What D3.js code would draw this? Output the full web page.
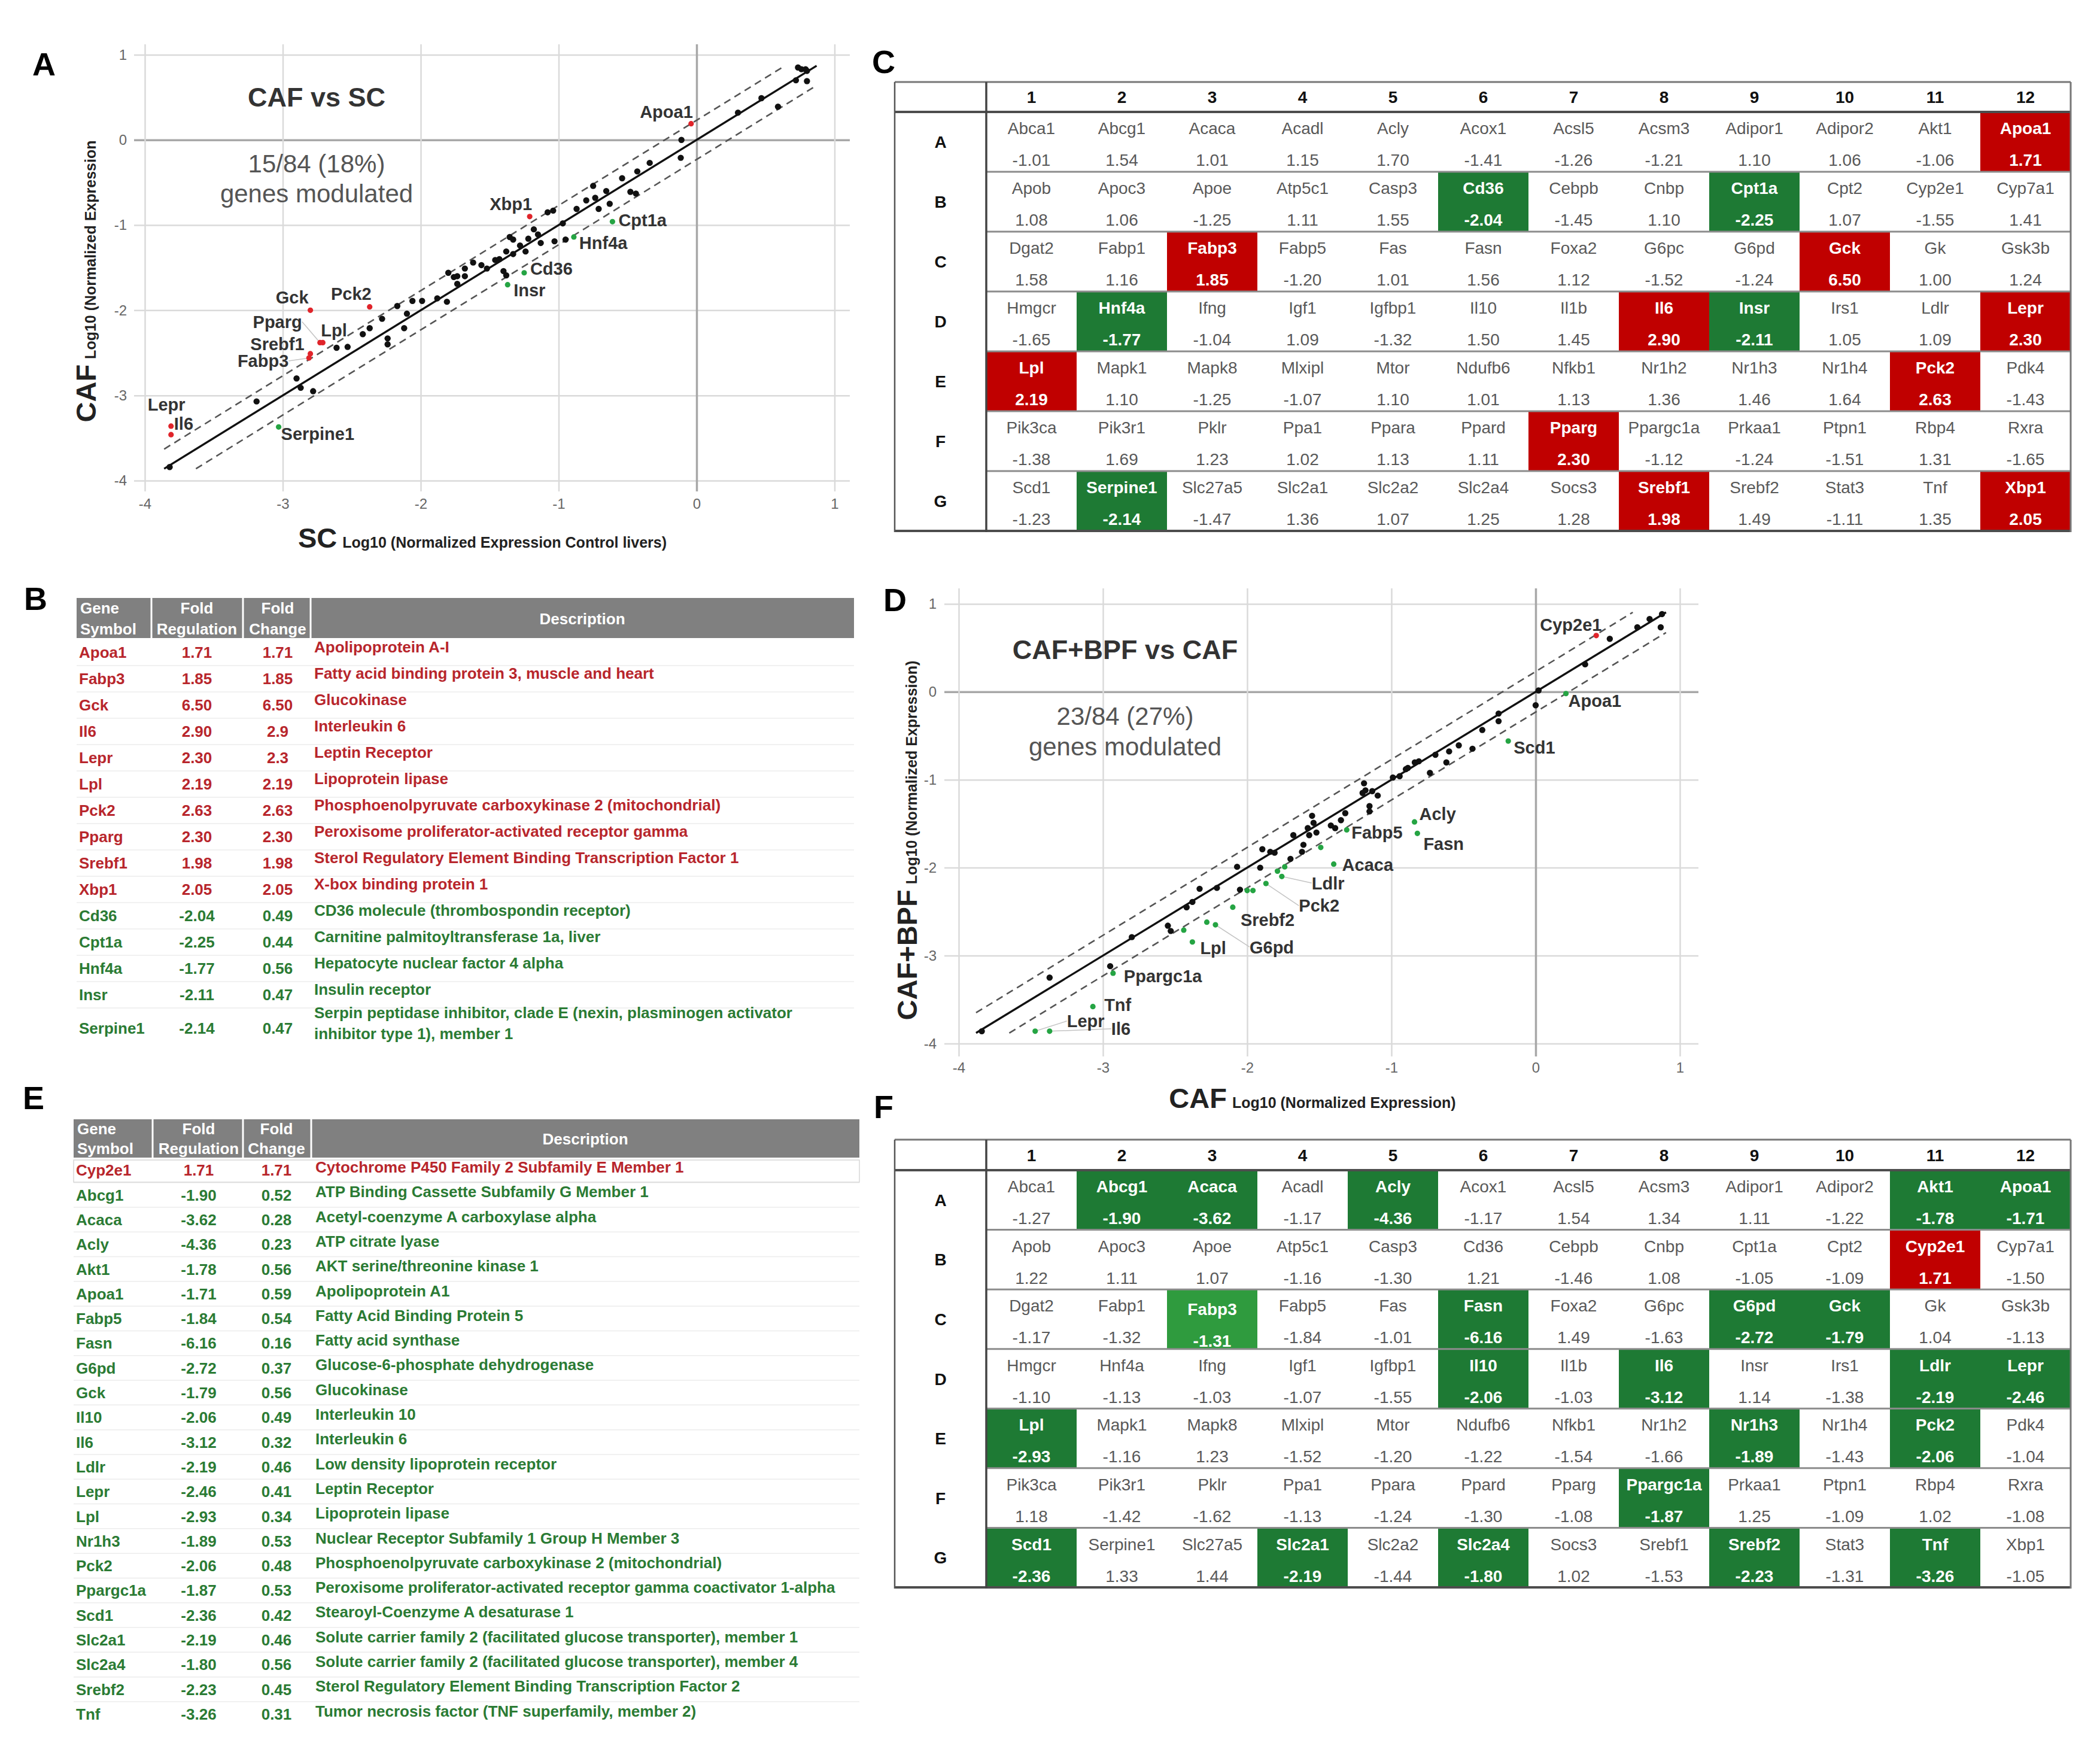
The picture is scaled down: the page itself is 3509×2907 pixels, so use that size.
<!DOCTYPE html>
<html>
<head>
<meta charset="utf-8">
<script src="https://cdn.jsdelivr.net/npm/d3@7"></script>
<style>
  body { margin: 0; background: #fff; }
  svg text { font-family: "Liberation Sans", Arial, Helvetica, sans-serif; }
</style>
</head>
<body>
<svg id="fig"></svg>
<script>
// ---------- data ----------
const axisTicks = [-4, -3, -2, -1, 0, 1];
const plateRows = ['A', 'B', 'C', 'D', 'E', 'F', 'G'];
const plateCols = ['1', '2', '3', '4', '5', '6', '7', '8', '9', '10', '11', '12'];
const plateGenes = [
  ['Abca1', 'Abcg1', 'Acaca', 'Acadl', 'Acly', 'Acox1', 'Acsl5', 'Acsm3', 'Adipor1', 'Adipor2', 'Akt1', 'Apoa1'],
  ['Apob', 'Apoc3', 'Apoe', 'Atp5c1', 'Casp3', 'Cd36', 'Cebpb', 'Cnbp', 'Cpt1a', 'Cpt2', 'Cyp2e1', 'Cyp7a1'],
  ['Dgat2', 'Fabp1', 'Fabp3', 'Fabp5', 'Fas', 'Fasn', 'Foxa2', 'G6pc', 'G6pd', 'Gck', 'Gk', 'Gsk3b'],
  ['Hmgcr', 'Hnf4a', 'Ifng', 'Igf1', 'Igfbp1', 'Il10', 'Il1b', 'Il6', 'Insr', 'Irs1', 'Ldlr', 'Lepr'],
  ['Lpl', 'Mapk1', 'Mapk8', 'Mlxipl', 'Mtor', 'Ndufb6', 'Nfkb1', 'Nr1h2', 'Nr1h3', 'Nr1h4', 'Pck2', 'Pdk4'],
  ['Pik3ca', 'Pik3r1', 'Pklr', 'Ppa1', 'Ppara', 'Ppard', 'Pparg', 'Ppargc1a', 'Prkaa1', 'Ptpn1', 'Rbp4', 'Rxra'],
  ['Scd1', 'Serpine1', 'Slc27a5', 'Slc2a1', 'Slc2a2', 'Slc2a4', 'Socs3', 'Srebf1', 'Srebf2', 'Stat3', 'Tnf', 'Xbp1']
];
const frCafVsSc = [
  [-1.01, 1.54, 1.01, 1.15, 1.70, -1.41, -1.26, -1.21, 1.10, 1.06, -1.06, 1.71],
  [1.08, 1.06, -1.25, 1.11, 1.55, -2.04, -1.45, 1.10, -2.25, 1.07, -1.55, 1.41],
  [1.58, 1.16, 1.85, -1.20, 1.01, 1.56, 1.12, -1.52, -1.24, 6.50, 1.00, 1.24],
  [-1.65, -1.77, -1.04, 1.09, -1.32, 1.50, 1.45, 2.90, -2.11, 1.05, 1.09, 2.30],
  [2.19, 1.10, -1.25, -1.07, 1.10, 1.01, 1.13, 1.36, 1.46, 1.64, 2.63, -1.43],
  [-1.38, 1.69, 1.23, 1.02, 1.13, 1.11, 2.30, -1.12, -1.24, -1.51, 1.31, -1.65],
  [-1.23, -2.14, -1.47, 1.36, 1.07, 1.25, 1.28, 1.98, 1.49, -1.11, 1.35, 2.05]
];
const frBpfVsCaf = [
  [-1.27, -1.90, -3.62, -1.17, -4.36, -1.17, 1.54, 1.34, 1.11, -1.22, -1.78, -1.71],
  [1.22, 1.11, 1.07, -1.16, -1.30, 1.21, -1.46, 1.08, -1.05, -1.09, 1.71, -1.50],
  [-1.17, -1.32, -1.31, -1.84, -1.01, -6.16, 1.49, -1.63, -2.72, -1.79, 1.04, -1.13],
  [-1.10, -1.13, -1.03, -1.07, -1.55, -2.06, -1.03, -3.12, 1.14, -1.38, -2.19, -2.46],
  [-2.93, -1.16, 1.23, -1.52, -1.20, -1.22, -1.54, -1.66, -1.89, -1.43, -2.06, -1.04],
  [1.18, -1.42, -1.62, -1.13, -1.24, -1.30, -1.08, -1.87, 1.25, -1.09, 1.02, -1.08],
  [-2.36, 1.33, 1.44, -2.19, -1.44, -1.80, 1.02, -1.53, -2.23, -1.31, -3.26, -1.05]
];
const upCafVsSc = ['Apoa1', 'Fabp3', 'Gck', 'Il6', 'Lepr', 'Lpl', 'Pck2', 'Pparg', 'Srebf1', 'Xbp1'];
const downCafVsSc = ['Cd36', 'Cpt1a', 'Hnf4a', 'Insr', 'Serpine1'];
const upBpfVsCaf = ['Cyp2e1'];
const downBpfVsCaf = ['Abcg1', 'Acaca', 'Acly', 'Akt1', 'Apoa1', 'Fabp3', 'Fasn', 'G6pd', 'Gck', 'Il10', 'Il6', 'Ldlr',
  'Lepr', 'Lpl', 'Nr1h3', 'Pck2', 'Ppargc1a', 'Scd1', 'Slc2a1', 'Slc2a4', 'Srebf2', 'Tnf'];
const paleBpfVsCaf = ['Fabp3'];

// table B
const listBGenes = ['Apoa1', 'Fabp3', 'Gck', 'Il6', 'Lepr', 'Lpl', 'Pck2', 'Pparg', 'Srebf1', 'Xbp1', 'Cd36', 'Cpt1a', 'Hnf4a', 'Insr', 'Serpine1'];
const listBRegulation = [1.71, 1.85, 6.50, 2.90, 2.30, 2.19, 2.63, 2.30, 1.98, 2.05, -2.04, -2.25, -1.77, -2.11, -2.14];
const listBChange = ['1.71', '1.85', '6.50', '2.9', '2.3', '2.19', '2.63', '2.30', '1.98', '2.05', '0.49', '0.44', '0.56', '0.47', '0.47'];
const listBDescription = ['Apolipoprotein A-I', 'Fatty acid binding protein 3, muscle and heart', 'Glucokinase', 'Interleukin 6',
  'Leptin Receptor', 'Lipoprotein lipase', 'Phosphoenolpyruvate carboxykinase 2 (mitochondrial)',
  'Peroxisome proliferator-activated receptor gamma', 'Sterol Regulatory Element Binding Transcription Factor 1',
  'X-box binding protein 1', 'CD36 molecule (thrombospondin receptor)', 'Carnitine palmitoyltransferase 1a, liver',
  'Hepatocyte nuclear factor 4 alpha', 'Insulin receptor',
  'Serpin peptidase inhibitor, clade E (nexin, plasminogen activator\ninhibitor type 1), member 1'];

// table E
const listEGenes = ['Cyp2e1', 'Abcg1', 'Acaca', 'Acly', 'Akt1', 'Apoa1', 'Fabp5', 'Fasn', 'G6pd', 'Gck', 'Il10', 'Il6', 'Ldlr',
  'Lepr', 'Lpl', 'Nr1h3', 'Pck2', 'Ppargc1a', 'Scd1', 'Slc2a1', 'Slc2a4', 'Srebf2', 'Tnf'];
const listERegulation = [1.71, -1.90, -3.62, -4.36, -1.78, -1.71, -1.84, -6.16, -2.72, -1.79, -2.06, -3.12, -2.19,
  -2.46, -2.93, -1.89, -2.06, -1.87, -2.36, -2.19, -1.80, -2.23, -3.26];
const listEChange = ['1.71', '0.52', '0.28', '0.23', '0.56', '0.59', '0.54', '0.16', '0.37', '0.56', '0.49', '0.32', '0.46',
  '0.41', '0.34', '0.53', '0.48', '0.53', '0.42', '0.46', '0.56', '0.45', '0.31'];
const listEDescription = ['Cytochrome P450 Family 2 Subfamily E Member 1', 'ATP Binding Cassette Subfamily G Member 1',
  'Acetyl-coenzyme A carboxylase alpha', 'ATP citrate lyase', 'AKT serine/threonine kinase 1', 'Apolipoprotein A1',
  'Fatty Acid Binding Protein 5', 'Fatty acid synthase', 'Glucose-6-phosphate dehydrogenase', 'Glucokinase',
  'Interleukin 10', 'Interleukin 6', 'Low density lipoprotein receptor', 'Leptin Receptor', 'Lipoprotein lipase',
  'Nuclear Receptor Subfamily 1 Group H Member 3', 'Phosphoenolpyruvate carboxykinase 2 (mitochondrial)',
  'Peroxisome proliferator-activated receptor gamma coactivator 1-alpha', 'Stearoyl-Coenzyme A desaturase 1',
  'Solute carrier family 2 (facilitated glucose transporter), member 1',
  'Solute carrier family 2 (facilitated glucose transporter), member 4',
  'Sterol Regulatory Element Binding Transcription Factor 2', 'Tumor necrosis factor (TNF superfamily, member 2)'];

// scatter A: SC (x) vs CAF (y), log10 normalized expression
const cafScGenes = ['Apoa1', 'Xbp1', 'Cpt1a', 'Hnf4a', 'Cd36', 'Insr', 'Gck', 'Pck2', 'Pparg', 'Lpl', 'Srebf1', 'Fabp3', 'Lepr', 'Il6', 'Serpine1'];
const cafScX = [-0.04, -1.21, -0.61, -0.89, -1.25, -1.37, -2.80, -2.37, -2.73, -2.71, -2.80, -2.81, -3.81, -3.81, -3.03];
const cafScY = [0.19, -0.90, -0.96, -1.14, -1.56, -1.70, -2.00, -1.96, -2.38, -2.38, -2.51, -2.56, -3.36, -3.46, -3.37];
const cafScOtherX = [0.735, 0.76, 0.79, 0.80, 0.72, 0.80, 0.59, 0.47, 0.30, -0.11, -0.115, -0.34, -0.43, -0.54, -0.655,
  -0.75, -0.735, -0.71, -0.63, -0.48, -0.44, -0.87, -0.97, -1.08, -1.04, -1.03, -0.95, -1.15, -1.13, -1.22, -1.24,
  -1.355, -1.33, -1.38, -1.33, -1.46, -1.43, -1.40, -1.38, -1.52, -1.62, -1.68, -1.68, -1.735, -1.735,
  -3.82, -3.19, -2.90, -2.87, -2.78, -2.61, -2.53, -2.42, -2.37, -2.28, -2.24, -2.24, -2.12, -2.17, -2.10, -2.06,
  -1.99, -1.88, -1.81, -1.80, -1.76, -1.56, -1.28, -1.18, -0.80];
const cafScOtherY = [0.85, 0.83, 0.83, 0.81, 0.70, 0.69, 0.39, 0.49, 0.32, 0.0, -0.21, -0.27, -0.37, -0.45, -0.60,
  -0.54, -0.68, -0.81, -0.75, -0.61, -0.63, -0.81, -0.98, -0.85, -0.83, -1.19, -1.17, -1.11, -1.21, -1.16, -1.31,
  -1.14, -1.17, -1.31, -1.34, -1.41, -1.40, -1.54, -1.59, -1.51, -1.44, -1.51, -1.60, -1.60, -1.69,
  -3.84, -3.07, -2.80, -2.91, -2.95, -2.44, -2.43, -2.28, -2.21, -2.10, -2.33, -2.40, -2.21, -1.95, -2.04, -1.89,
  -1.89, -1.86, -1.90, -1.56, -1.61, -1.47, -1.24, -1.05, -0.71];

// scatter D: CAF (x) vs CAF+BPF (y)
const bpfCafGenes = ['Cyp2e1', 'Apoa1', 'Scd1', 'Acly', 'Fasn', 'Fabp5', 'Acaca', 'Ldlr', 'Pck2', 'Srebf2', 'G6pd', 'Lpl',
  'Ppargc1a', 'Tnf', 'Lepr', 'Il6', 'Abcg1', 'Gck', 'Akt1', 'Nr1h3', 'Slc2a1', 'Slc2a4', 'Il10'];
const bpfCafX = [0.42, 0.21, -0.19, -0.84, -0.82, -1.31, -1.40, -1.76, -1.87, -2.10, -2.22, -2.38,
  -2.93, -3.07, -3.47, -3.37, -1.49, -1.74, -1.79, -2.44, -2.28, -2.00, -1.96];
const bpfCafY = [0.64, -0.02, -0.56, -1.48, -1.61, -1.57, -1.96, -2.10, -2.18, -2.45, -2.65, -2.845,
  -3.20, -3.58, -3.86, -3.86, -1.77, -1.99, -2.04, -2.71, -2.62, -2.26, -2.26];
const bpfCafOtherX = [0.876, 0.79, 0.867, 0.705, 0.514, 0.343, 0.02, 0.0, -0.257, -0.257, -0.37, -0.533, -0.438, -0.60,
  -0.619, -0.695, -0.81, -0.838, -0.886, -0.733, -0.943, -0.99, -1.095, -1.133, -1.19, -1.18, -1.152, -1.152, -1.32,
  -1.42, -1.39, -1.35, -1.55, -1.54, -1.52, -1.57, -1.68, -1.61, -1.62, -1.70, -1.81, -1.84, -1.895, -1.91,
  -3.84, -3.37, -2.80, -2.55, -2.53, -2.42, -2.38, -2.33, -2.21, -2.07, -2.05, -2.95, -1.58, -1.20, -0.90];
const bpfCafOtherY = [0.884, 0.828, 0.734, 0.734, 0.603, 0.3125, 0.016, -0.153, -0.247, -0.334, -0.434, -0.609, -0.647, -0.678,
  -0.803, -0.716, -0.79, -0.803, -0.866, -0.922, -0.96, -0.975, -1.18, -1.13, -1.04, -1.12, -1.30, -1.36, -1.38,
  -1.52, -1.55, -1.46, -1.41, -1.49, -1.60, -1.63, -1.63, -1.74, -1.82, -1.90, -1.83, -1.82, -1.79, -2.0,
  -3.86, -3.25, -2.79, -2.66, -2.72, -2.45, -2.39, -2.24, -2.23, -1.99, -2.25, -3.12, -1.55, -1.15, -0.88];

// ---------- layout / style ----------
const W = 3509, H = 2907;
const FOLD_LINE = Math.log10(1.7);
const RED_CELL = '#c00000', GREEN_CELL = '#1e7a34', GREEN_PALE = '#2f9b3e';
const RED_TXT = '#b8262c', GREEN_TXT = '#2b7b34';
const RED_DOT = '#e0242a', GREEN_DOT = '#25a443';
const fmt = v => v.toFixed(2);

const svg = d3.select('#fig').attr('width', W).attr('height', H);
svg.append('rect').attr('width', W).attr('height', H).attr('fill', '#fff');
const root = svg.append('g');

// panel letters
[['A', 54, 126], ['B', 40, 1019], ['C', 1457, 122], ['D', 1476, 1021], ['E', 38, 1853], ['F', 1460, 1868]]
  .forEach(([t, x, y]) => root.append('text').attr('x', x).attr('y', y)
    .attr('font-size', 54).attr('font-weight', 'bold').attr('fill', '#000').text(t));

// ---------- scatter plots ----------
function drawScatter(cfg) {
  const g = root.append('g');
  const x = d3.scaleLinear().domain([-4, 1]).range(cfg.xAt);
  const y = d3.scaleLinear().domain([-4, 1]).range(cfg.yAt);
  const [gl, gr, gt, gb] = cfg.grid;

  const yAxis = g.append('g').attr('transform', `translate(${gl},0)`)
    .call(d3.axisLeft(y).tickValues(axisTicks).tickFormat(d => String(d)).tickSize(-(gr - gl)).tickPadding(cfg.yPad));
  const xAxis = g.append('g').attr('transform', `translate(0,${gb})`)
    .call(d3.axisBottom(x).tickValues(axisTicks).tickFormat(d => String(d)).tickSize(-(gb - gt)).tickPadding(cfg.xPad));
  [yAxis, xAxis].forEach(a => {
    a.select('.domain').remove();
    a.selectAll('.tick line').attr('stroke', d => d === 0 ? '#a8a8a8' : '#dadada')
      .attr('stroke-width', d => d === 0 ? 3.5 : 2.5);
    a.selectAll('.tick text').attr('fill', '#666').attr('font-size', 24)
      .attr('font-family', '"Liberation Sans", Arial, sans-serif');
  });
  yAxis.selectAll('.tick').filter(d => d === 0).raise();

  const all = cfg.ox.concat(cfg.oy, cfg.cx, cfg.cy);
  const lo = d3.min(all) - 0.02, hi = d3.max(all) + 0.02;
  const diag = [
    [[lo, lo], [hi, hi], null, 3.4, '#111'],
    [[lo, lo + FOLD_LINE], [hi - FOLD_LINE, hi], '12,8', 2.6, '#555'],
    [[lo + FOLD_LINE, lo], [hi, hi - FOLD_LINE], '12,8', 2.6, '#555']
  ];
  g.selectAll('line.diag').data(diag).join('line').attr('class', 'diag')
    .attr('x1', d => x(d[0][0])).attr('y1', d => y(d[0][1]))
    .attr('x2', d => x(d[1][0])).attr('y2', d => y(d[1][1]))
    .attr('stroke', d => d[4]).attr('stroke-width', d => d[3])
    .attr('stroke-dasharray', d => d[2]);

  const others = cfg.ox.map((v, i) => [v, cfg.oy[i]]);
  g.selectAll('circle.o').data(others).join('circle').attr('class', 'o')
    .attr('cx', d => x(d[0])).attr('cy', d => y(d[1])).attr('r', 5.2).attr('fill', '#111');

  const marked = cfg.genes.map((gname, i) => ({ gene: gname, x: cfg.cx[i], y: cfg.cy[i] }));
  const lab = marked.filter(d => cfg.labels[d.gene]);
  g.selectAll('line.lead').data(lab.filter(d => cfg.labels[d.gene][3])).join('line').attr('class', 'lead')
    .attr('x1', d => x(d.x)).attr('y1', d => y(d.y))
    .attr('x2', d => x(d.x) + cfg.labels[d.gene][1]).attr('y2', d => y(d.y) + cfg.labels[d.gene][2])
    .attr('stroke', '#c4c4c4').attr('stroke-width', 1.5);
  g.selectAll('circle.m').data(marked).join('circle').attr('class', 'm')
    .attr('cx', d => x(d.x)).attr('cy', d => y(d.y)).attr('r', 4.6)
    .attr('fill', d => cfg.isUp(d.gene) ? RED_DOT : GREEN_DOT);
  g.selectAll('text.lab').data(lab).join('text').attr('class', 'lab')
    .attr('x', d => x(d.x) + cfg.labels[d.gene][1]).attr('y', d => y(d.y) + cfg.labels[d.gene][2])
    .attr('dy', '0.36em').attr('text-anchor', d => cfg.labels[d.gene][0])
    .attr('font-size', 29).attr('font-weight', 'bold').attr('fill', '#333').text(d => d.gene);

  g.append('text').attr('x', cfg.title[1]).attr('y', cfg.title[2]).attr('text-anchor', 'middle')
    .attr('font-size', 45).attr('font-weight', 'bold').attr('fill', '#333').text(cfg.title[0]);
  cfg.note.forEach(([t, yy]) => g.append('text').attr('x', cfg.title[1]).attr('y', yy)
    .attr('text-anchor', 'middle').attr('font-size', 42).attr('fill', '#555').text(t));

  const xt = g.append('text').attr('x', cfg.xTitle[2]).attr('y', cfg.xTitle[3])
    .attr('text-anchor', 'middle').attr('font-weight', 'bold').attr('fill', '#222');
  xt.append('tspan').attr('font-size', 47).text(cfg.xTitle[0]);
  xt.append('tspan').attr('font-size', 25).attr('dx', 9).text(cfg.xTitle[1]);
  const yt = g.append('text').attr('transform', `translate(${cfg.yTitle[2]},${cfg.yTitle[3]}) rotate(-90)`)
    .attr('text-anchor', 'middle').attr('font-weight', 'bold').attr('fill', '#222');
  yt.append('tspan').attr('font-size', 47).text(cfg.yTitle[0]);
  yt.append('tspan').attr('font-size', 25).attr('dx', 9).text(cfg.yTitle[1]);
}

drawScatter({
  xAt: [242, 1394.5], yAt: [803, 91.4], grid: [224, 1420, 74, 821], yPad: 12, xPad: 12,
  genes: cafScGenes, cx: cafScX, cy: cafScY, ox: cafScOtherX, oy: cafScOtherY,
  isUp: gname => upCafVsSc.includes(gname),
  labels: {
    Apoa1: ['end', 3, -20], Xbp1: ['end', 4, -21], Cpt1a: ['start', 10, -3], Hnf4a: ['start', 9, 10],
    Cd36: ['start', 10, -7], Insr: ['start', 10, 9], Gck: ['end', -3, -22], Pck2: ['end', 3, -22],
    Pparg: ['end', -30, -35, true], Lpl: ['start', -3, -21], Srebf1: ['end', -10, -16],
    Fabp3: ['end', -34, 5, true], Lepr: ['start', -39, -36], Il6: ['start', 5, -19], Serpine1: ['start', 4, 11]
  },
  title: ['CAF vs SC', 529, 178], note: [['15/84 (18%)', 288], ['genes modulated', 338]],
  xTitle: ['SC', 'Log10 (Normalized Expression Control livers)', 806, 915],
  yTitle: ['CAF', 'Log10 (Normalized Expression', 160, 470]
});

drawScatter({
  xAt: [1602, 2807], yAt: [1743.4, 1008.9], grid: [1578, 2838, 983, 1765], yPad: 13, xPad: 10,
  genes: bpfCafGenes, cx: bpfCafX, cy: bpfCafY, ox: bpfCafOtherX, oy: bpfCafOtherY,
  isUp: gname => listERegulation[listEGenes.indexOf(gname)] > 0,
  labels: {
    Cyp2e1: ['start', -94, -18], Apoa1: ['start', 4, 12], Scd1: ['start', 9, 10], Acly: ['start', 8, -14],
    Fasn: ['start', 10, 17], Fabp5: ['start', 8, 4], Acaca: ['start', 14, 1], Ldlr: ['start', 50, 11, true],
    Pck2: ['start', 55, 37, true], Srebf2: ['start', 13, 21], G6pd: ['start', 57, 37, true], Lpl: ['start', 13, 10],
    Ppargc1a: ['start', 18, 5], Tnf: ['start', 19, -3], Lepr: ['start', 53, -17, true], Il6: ['start', 103, -4, true]
  },
  title: ['CAF+BPF vs CAF', 1880, 1101], note: [['23/84 (27%)', 1211], ['genes modulated', 1262]],
  xTitle: ['CAF', 'Log10 (Normalized Expression)', 2193, 1851],
  yTitle: ['CAF+BPF', 'Log10 (Normalized Expression)', 1532, 1404]
});

// ---------- plate tables (C, F) ----------
function drawPlate(cfg, values, up, down, pale) {
  const g = root.append('g');
  const col = d3.scaleBand().domain(plateCols).range([cfg.labelR, cfg.right]);
  const row = d3.scaleBand().domain(plateRows).range([cfg.headBot, cfg.bottom]);
  const cells = [];
  plateRows.forEach((r, i) => plateCols.forEach((c, j) =>
    cells.push({ r, c, gene: plateGenes[i][j], v: values[i][j],
      s: up.includes(plateGenes[i][j]) ? 'up' : down.includes(plateGenes[i][j]) ? 'down' : '' })));

  g.selectAll('rect.cell').data(cells.filter(d => d.s)).join('rect').attr('class', 'cell')
    .attr('x', d => col(d.c)).attr('y', d => row(d.r)).attr('width', col.bandwidth()).attr('height', row.bandwidth())
    .attr('fill', d => d.s === 'up' ? RED_CELL : pale.includes(d.gene) ? GREEN_PALE : GREEN_CELL);

  g.selectAll('line.sep').data(plateRows.slice(1)).join('line').attr('class', 'sep')
    .attr('x1', cfg.labelR).attr('x2', cfg.right).attr('y1', d => row(d)).attr('y2', d => row(d))
    .attr('stroke', '#8c8c8c').attr('stroke-width', 3);
  const rules = [[cfg.top, '#777', 3], [cfg.headBot, '#4d4d4d', 4], [cfg.bottom, '#4d4d4d', 4]];
  g.selectAll('line.rule').data(rules).join('line').attr('class', 'rule')
    .attr('x1', cfg.left).attr('x2', cfg.right).attr('y1', d => d[0]).attr('y2', d => d[0])
    .attr('stroke', d => d[1]).attr('stroke-width', d => d[2]);
  [[cfg.left, '#555', 2.5], [cfg.labelR, '#444', 3.5], [cfg.right, '#777', 3]].forEach(([xx, c, w]) =>
    g.append('line').attr('x1', xx).attr('x2', xx).attr('y1', cfg.top).attr('y2', cfg.bottom + 2)
      .attr('stroke', c).attr('stroke-width', w));

  g.selectAll('text.hd').data(plateCols).join('text').attr('class', 'hd')
    .attr('x', d => col(d) + col.bandwidth() / 2).attr('y', (cfg.top + cfg.headBot) / 2).attr('dy', '0.36em')
    .attr('text-anchor', 'middle').attr('font-size', 28).attr('font-weight', 'bold').attr('fill', '#111').text(d => d);
  g.selectAll('text.rl').data(plateRows).join('text').attr('class', 'rl')
    .attr('x', (cfg.left + cfg.labelR) / 2).attr('y', d => row(d) + row.bandwidth() / 2).attr('dy', '0.36em')
    .attr('text-anchor', 'middle').attr('font-size', 28).attr('font-weight', 'bold').attr('fill', '#111').text(d => d);

  const cellText = (cls, off, fn) => g.selectAll('text.' + cls).data(cells).join('text').attr('class', cls)
    .attr('x', d => col(d.c) + col.bandwidth() / 2)
    .attr('y', d => row(d.r) + off + (pale.includes(d.gene) && d.s ? 6 : 0)).attr('dy', '0.36em')
    .attr('text-anchor', 'middle').attr('font-size', 28)
    .attr('font-weight', d => d.s ? 'bold' : 'normal')
    .attr('fill', d => d.s ? '#fff' : '#595959').text(fn);
  cellText('gn', 27, d => d.gene);
  cellText('gv', 80, d => fmt(d.v));
}

drawPlate({ left: 1495, labelR: 1648, right: 3460, top: 137, headBot: 187, bottom: 887 },
  frCafVsSc, upCafVsSc, downCafVsSc, []);
drawPlate({ left: 1495, labelR: 1648, right: 3460, top: 1904, headBot: 1955, bottom: 2652 },
  frBpfVsCaf, upBpfVsCaf, downBpfVsCaf, paleBpfVsCaf);

// ---------- gene lists (B, E) ----------
function drawList(cfg, genes, reg, change, desc) {
  const g = root.append('g');
  const L = cfg.left, R = cfg.right;
  g.append('rect').attr('x', L).attr('y', cfg.top).attr('width', R - L).attr('height', cfg.headBot - cfg.top)
    .attr('fill', '#808080');
  g.selectAll('line.hs').data(cfg.seps).join('line').attr('class', 'hs')
    .attr('x1', d => d).attr('x2', d => d).attr('y1', cfg.top).attr('y2', cfg.headBot)
    .attr('stroke', '#fff').attr('stroke-width', 3);
  const hy = cfg.headLines;
  const heads = [['Gene', 'Symbol', cfg.geneX + 2, 'start'], ['Fold', 'Regulation', cfg.regX, 'middle'],
    ['Fold', 'Change', cfg.chgX, 'middle']];
  heads.forEach(([a, b, xx, anc]) => [a, b].forEach((t, k) => g.append('text').attr('x', xx).attr('y', hy[k])
    .attr('dy', '0.36em').attr('text-anchor', anc).attr('font-size', 26).attr('font-weight', 'bold')
    .attr('fill', '#fff').text(t)));
  g.append('text').attr('x', (cfg.seps[2] + R) / 2).attr('y', (hy[0] + hy[1]) / 2).attr('dy', '0.36em')
    .attr('text-anchor', 'middle').attr('font-size', 26).attr('font-weight', 'bold').attr('fill', '#fff')
    .text('Description');

  const rows = genes.map((gname, i) => ({
    gene: gname, reg: reg[i], chg: change[i], desc: desc[i].split('\n'),
    y: cfg.firstY + cfg.step * i + (desc[i].includes('\n') ? 12 : 0)
  }));
  g.selectAll('line.rs').data(rows.slice(0, -1)).join('line').attr('class', 'rs')
    .attr('x1', L).attr('x2', R).attr('y1', d => d.y + cfg.step / 2).attr('y2', d => d.y + cfg.step / 2)
    .attr('stroke', '#ececec').attr('stroke-width', 1.5);
  if (cfg.boxFirst) {
    g.append('rect').attr('x', L).attr('y', rows[0].y - 17).attr('width', R - L).attr('height', 37)
      .attr('fill', 'none').attr('stroke', '#d8d8d8').attr('stroke-width', 1.5);
  }
  const color = d => d.reg > 0 ? RED_TXT : GREEN_TXT;
  const put = (cls, xx, anc, fn) => g.selectAll('text.' + cls).data(rows).join('text').attr('class', cls)
    .attr('x', xx).attr('y', d => d.y).attr('dy', '0.36em').attr('text-anchor', anc)
    .attr('font-size', 26).attr('font-weight', 'bold').attr('fill', color).text(fn);
  put('c1', cfg.geneX, 'start', d => d.gene);
  put('c2', cfg.regX, 'middle', d => fmt(d.reg));
  put('c3', cfg.chgX, 'middle', d => d.chg);
  const dt = g.selectAll('text.c4').data(rows).join('text').attr('class', 'c4')
    .attr('x', cfg.descX).attr('y', d => d.y + cfg.descDy - (d.desc.length - 1) * 17.5)
    .attr('dy', '0.36em').attr('font-size', 26).attr('font-weight', 'bold').attr('fill', color);
  dt.selectAll('tspan').data(d => d.desc).join('tspan')
    .attr('x', cfg.descX).attr('dy', (d, i) => i ? 35 : 0).text(d => d);
}

drawList({ left: 128, right: 1427, top: 999, headBot: 1066, seps: [253, 406, 519], headLines: [1016, 1051],
  geneX: 132, regX: 329, chgX: 464, descX: 525, descDy: 0, firstY: 1090, step: 44 },
  listBGenes, listBRegulation, listBChange, listBDescription);
drawList({ left: 123, right: 1436, top: 1870, headBot: 1934, seps: [255, 406, 520], headLines: [1886, 1919],
  geneX: 127, regX: 332, chgX: 462, descX: 527, descDy: 4, firstY: 1955, step: 41.3, boxFirst: true },
  listEGenes, listERegulation, listEChange, listEDescription);
</script>
</body>
</html>
